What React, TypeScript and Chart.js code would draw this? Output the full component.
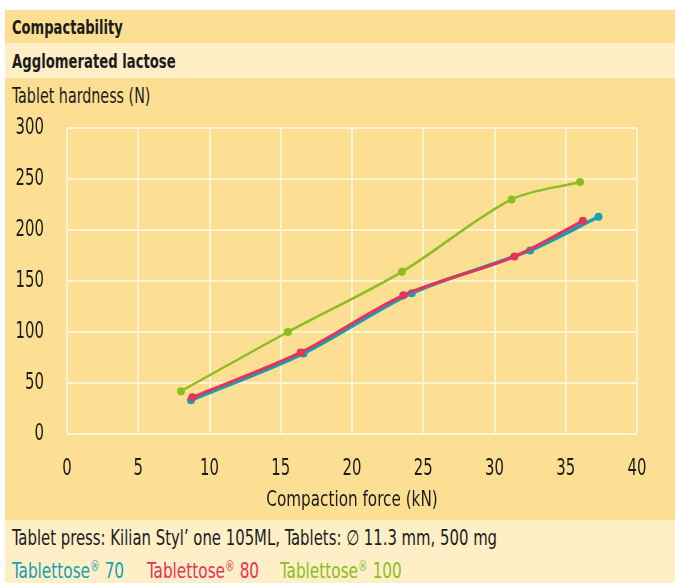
import React, { useEffect, useRef } from "react";
import { Chart, registerables } from "chart.js";

Chart.register(...registerables);

const FONT = "'DejaVu Sans Condensed', 'DejaVu Sans', sans-serif";

const xTicks = [0, 5, 10, 15, 20, 25, 30, 35, 40];
const yTicks = [0, 50, 100, 150, 200, 250, 300];

const seriesNames = ["Tablettose® 70", "Tablettose® 80", "Tablettose® 100"];
const seriesColors = ["#16A0B4", "#E5335B", "#8CBE23"];

const force70 = [8.7, 16.6, 24.2, 32.5, 37.3];
const hardness70 = [33, 79, 138, 180, 213];
const force80 = [8.8, 16.4, 23.6, 31.4, 36.2];
const hardness80 = [36, 80, 136, 174, 209];
const force100 = [8.0, 15.5, 23.5, 31.2, 36.0];
const hardness100 = [42, 100, 159, 230, 247];

const title1 = "Compactability";
const title2 = "Agglomerated lactose";
const yTitle = "Tablet hardness (N)";
const xTitle = "Compaction force (kN)";
const note = "Tablet press: Kilian Styl\u2019 one 105ML, Tablets: \u2205 11.3 mm, 500 mg";

const DARK = "#FDDF93";
const LIGHT = "#FEEFC6";
const GRID = "#FFF3D1";
const TEXT = "#1c1c1c";

function pts(xs: number[], ys: number[]) {
  return xs.map((x, i) => ({ x, y: ys[i] }));
}

// Draws axis tick labels and the x-axis title in a narrow, tall style,
// positioned through the chart's own scales.
const narrowLabels = {
  id: "narrowLabels",
  afterDraw(chart: any) {
    const { ctx, chartArea, scales } = chart;
    const put = (text: string, x: number, y: number, align: CanvasTextAlign, sx: number) => {
      ctx.save();
      ctx.translate(x, y);
      ctx.scale(sx, 1);
      ctx.textAlign = align;
      ctx.fillText(text, 0, 0);
      ctx.restore();
    };
    ctx.save();
    ctx.fillStyle = TEXT;
    ctx.textBaseline = "middle";
    ctx.font = `23px ${FONT}`;
    xTicks.forEach((v) => put(String(v), scales.x.getPixelForValue(v), chartArea.bottom + 35, "center", 0.72));
    yTicks.forEach((v) => put(String(v), chartArea.left - 23, scales.y.getPixelForValue(v), "right", 0.72));
    ctx.font = `22px ${FONT}`;
    put(xTitle, (chartArea.left + chartArea.right) / 2, chartArea.bottom + 66, "center", 0.77);
    ctx.restore();
  },
};

export default function App() {
  const ref = useRef<HTMLCanvasElement>(null);
  useEffect(() => {
    if (!ref.current) return;
    const mk = (i: number, xs: number[], ys: number[], lw: number, order: number) => ({
      label: seriesNames[i],
      data: pts(xs, ys),
      borderColor: seriesColors[i],
      backgroundColor: seriesColors[i],
      borderWidth: lw,
      pointRadius: 4,
      pointBorderWidth: 0,
      tension: 0.3,
      showLine: true,
      order,
      clip: false as any,
    });
    const chart = new Chart(ref.current, {
      type: "scatter",
      data: {
        datasets: [
          mk(0, force70, hardness70, 3.5, 3),
          mk(1, force80, hardness80, 3, 2),
          mk(2, force100, hardness100, 2.5, 1),
        ] as any,
      },
      plugins: [narrowLabels],
      options: {
        animation: false,
        responsive: false,
        maintainAspectRatio: false,
        layout: { padding: { left: 0, top: 50, right: 38, bottom: 0 } },
        plugins: { legend: { display: false }, tooltip: { enabled: false } },
        scales: {
          x: {
            type: "linear",
            min: 0,
            max: 40,
            afterBuildTicks: (s: any) => {
              s.ticks = xTicks.map((v) => ({ value: v }));
            },
            afterFit: (s: any) => {
              s.height = 86;
            },
            grid: { color: GRID, lineWidth: 2, drawTicks: false },
            border: { display: false },
            ticks: { display: false },
            title: { display: false, text: xTitle },
          },
          y: {
            type: "linear",
            min: 0,
            max: 300,
            afterBuildTicks: (s: any) => {
              s.ticks = yTicks.map((v) => ({ value: v }));
            },
            afterFit: (s: any) => {
              s.width = 62;
            },
            grid: { color: GRID, lineWidth: 2, drawTicks: false },
            border: { display: false },
            ticks: { display: false },
          },
        },
      },
    });
    return () => chart.destroy();
  }, []);

  const band = (top: number, height: number, bg: string): React.CSSProperties => ({
    position: "absolute",
    left: 5,
    top,
    width: 670,
    height,
    background: bg,
  });
  const txt = (top: number, left: number, size: number, sx: number, bold = false): React.CSSProperties => ({
    position: "absolute",
    left,
    top,
    fontFamily: FONT,
    color: TEXT,
    fontSize: size,
    lineHeight: "22px",
    whiteSpace: "nowrap",
    fontWeight: bold ? "bold" : "normal",
    transform: `scaleX(${sx})`,
    transformOrigin: "left center",
  });
  const legendItem = (i: number, left: number) => {
    const [a, b] = seriesNames[i].split("®");
    return (
      <div style={{ ...txt(560, left, 22, 0.773), color: seriesColors[i] }}>
        {a}
        <span style={{ fontSize: 14, position: "relative", top: -7 }}>®</span>
        {b}
      </div>
    );
  };

  return (
    <div style={{ position: "fixed", left: 0, top: 0, width: 675, height: 583, background: "#fff", overflow: "hidden" }}>
      <div style={band(10, 33, DARK)} />
      <div style={band(43, 35, LIGHT)} />
      <div style={band(78, 442, DARK)} />
      <div style={band(520, 63, LIGHT)} />
      <div style={txt(16, 12, 20, 0.727, true)}>{title1}</div>
      <div style={txt(50, 12, 20, 0.734, true)}>{title2}</div>
      <div style={txt(85, 12, 22, 0.722)}>{yTitle}</div>
      <canvas ref={ref} width={670} height={442} style={{ position: "absolute", left: 5, top: 78, width: 670, height: 442 }} />
      <div style={txt(527, 12, 21, 0.787)}>{note}</div>
      {legendItem(0, 12)}
      {legendItem(1, 147)}
      {legendItem(2, 280)}
    </div>
  );
}
